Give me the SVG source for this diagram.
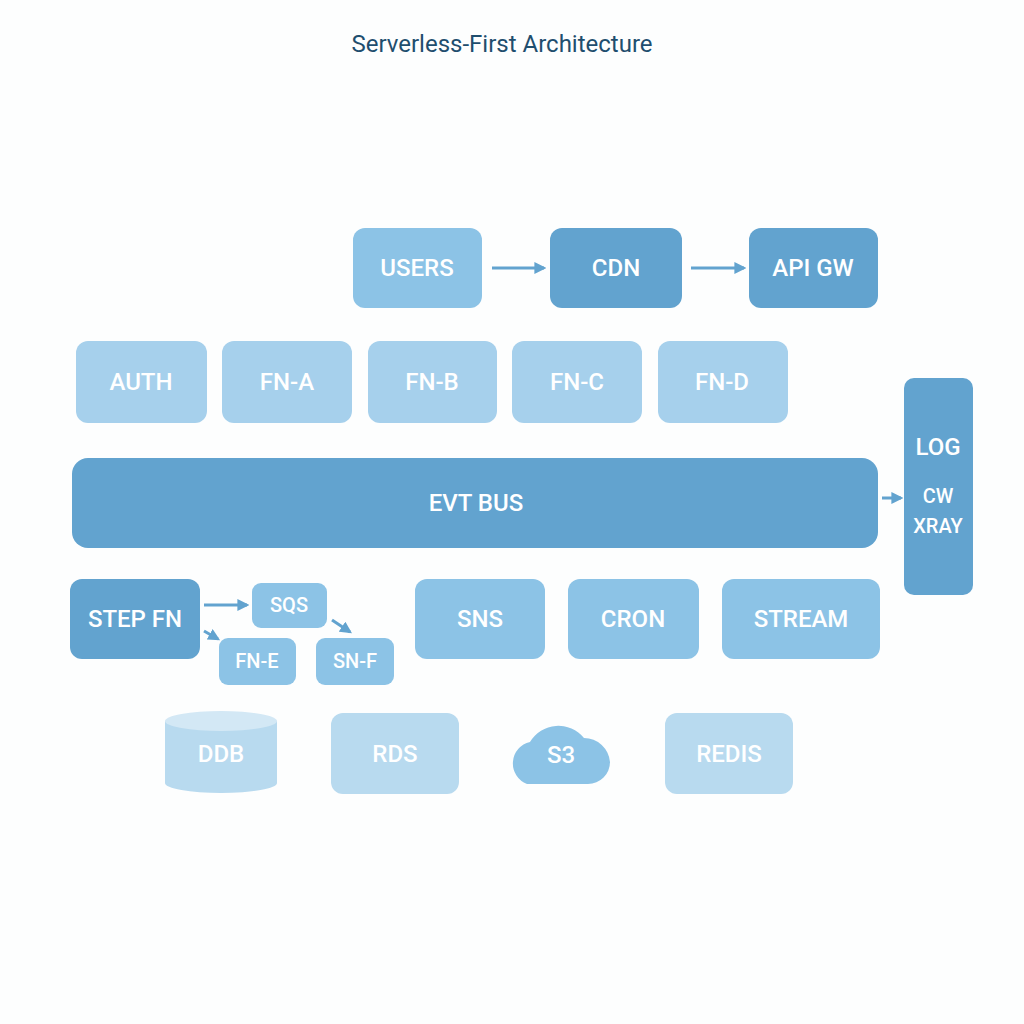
<svg xmlns="http://www.w3.org/2000/svg" width="1024" height="1024" viewBox="0 0 1024 1024">
<style>
text{font-family:Roboto,"Liberation Sans",sans-serif;fill:#fff;text-anchor:middle;dominant-baseline:central;font-weight:500}
.t{font-size:24px}
.s{font-size:20px}
.dk{fill:#62a3cf}.md{fill:#8cc3e6}.lt{fill:#a6d0ec}.pl{fill:#b8daef}
.c{stroke:#62a3cf;stroke-width:3;fill:none;marker-end:url(#a)}
</style>
<defs><marker id="a" viewBox="0 0 10 10" refX="8" refY="5" markerWidth="4" markerHeight="4" orient="auto"><path d="M0,0L10,5L0,10z" fill="#62a3cf"/></marker></defs>
<rect width="1024" height="1024" fill="#fdfefe"/>
<text x="502" y="44" style="fill:#1f4e6e;font-size:24px;font-weight:400">Serverless-First Architecture</text>
<g id="users"><rect class="md" x="353" y="228" width="129" height="80" rx="12"/><text class="t" x="417" y="268">USERS</text></g>
<g id="cdn"><rect class="dk" x="550" y="228" width="132" height="80" rx="12"/><text class="t" x="616" y="268">CDN</text></g>
<g id="apigw"><rect class="dk" x="749" y="228" width="129" height="80" rx="12"/><text class="t" x="813" y="268">API GW</text></g>
<g id="auth"><rect class="lt" x="76" y="341" width="131" height="82" rx="12"/><text class="t" x="141" y="382">AUTH</text></g>
<g id="fna"><rect class="lt" x="222" y="341" width="130" height="82" rx="12"/><text class="t" x="287" y="382">FN-A</text></g>
<g id="fnb"><rect class="lt" x="368" y="341" width="129" height="82" rx="12"/><text class="t" x="432" y="382">FN-B</text></g>
<g id="fnc"><rect class="lt" x="512" y="341" width="130" height="82" rx="12"/><text class="t" x="577" y="382">FN-C</text></g>
<g id="fnd"><rect class="lt" x="658" y="341" width="130" height="82" rx="12"/><text class="t" x="722" y="382">FN-D</text></g>
<g id="evtbus"><rect class="dk" x="72" y="458" width="806" height="90" rx="16"/><text class="t" x="476" y="503">EVT BUS</text></g>
<g id="log"><rect class="dk" x="904" y="378" width="69" height="217" rx="10"/><text class="t" x="938" y="447">LOG</text><text class="s" x="938" y="496">CW</text><text class="s" x="938" y="526">XRAY</text></g>
<g id="stepfn"><rect class="dk" x="70" y="579" width="130" height="80" rx="12"/><text class="t" x="135" y="619">STEP FN</text></g>
<g id="sqs"><rect class="md" x="252" y="583" width="75" height="45" rx="9"/><text class="s" x="289" y="605">SQS</text></g>
<g id="fne"><rect class="md" x="219" y="638" width="77" height="47" rx="9"/><text class="s" x="257" y="661">FN-E</text></g>
<g id="snf"><rect class="md" x="316" y="638" width="78" height="47" rx="9"/><text class="s" x="355" y="661">SN-F</text></g>
<g id="sns"><rect class="md" x="415" y="579" width="130" height="80" rx="12"/><text class="t" x="480" y="619">SNS</text></g>
<g id="cron"><rect class="md" x="568" y="579" width="131" height="80" rx="12"/><text class="t" x="633" y="619">CRON</text></g>
<g id="stream"><rect class="md" x="722" y="579" width="158" height="80" rx="12"/><text class="t" x="801" y="619">STREAM</text></g>
<g id="ddb"><path d="M165,721 L165,783 A56,10 0 0 0 277,783 L277,721 Z" fill="#b8daef"/><ellipse cx="221" cy="721" rx="56" ry="10" fill="#d3e8f5"/><text class="t" x="221" y="754">DDB</text></g>
<g id="rds"><rect class="pl" x="331" y="713" width="128" height="81" rx="12"/><text class="t" x="395" y="754">RDS</text></g>
<g id="s3"><path d="M527,784 A22,22 0 0 1 530,742 A33,33 0 0 1 584,738 A26,26 0 0 1 610,762 A22,22 0 0 1 588,784 Z" fill="#8cc3e6"/><text class="t" x="561" y="755">S3</text></g>
<g id="redis"><rect class="pl" x="665" y="713" width="128" height="81" rx="12"/><text class="t" x="729" y="754">REDIS</text></g>
<g id="connectors">
<path class="c" d="M492,268H544"/>
<path class="c" d="M691,268H744"/>
<path class="c" d="M882,498H901"/>
<path class="c" d="M204,605H247"/>
<path class="c" d="M204,631L218,639"/>
<path class="c" d="M332,620L350,632"/>
</g>
</svg>
